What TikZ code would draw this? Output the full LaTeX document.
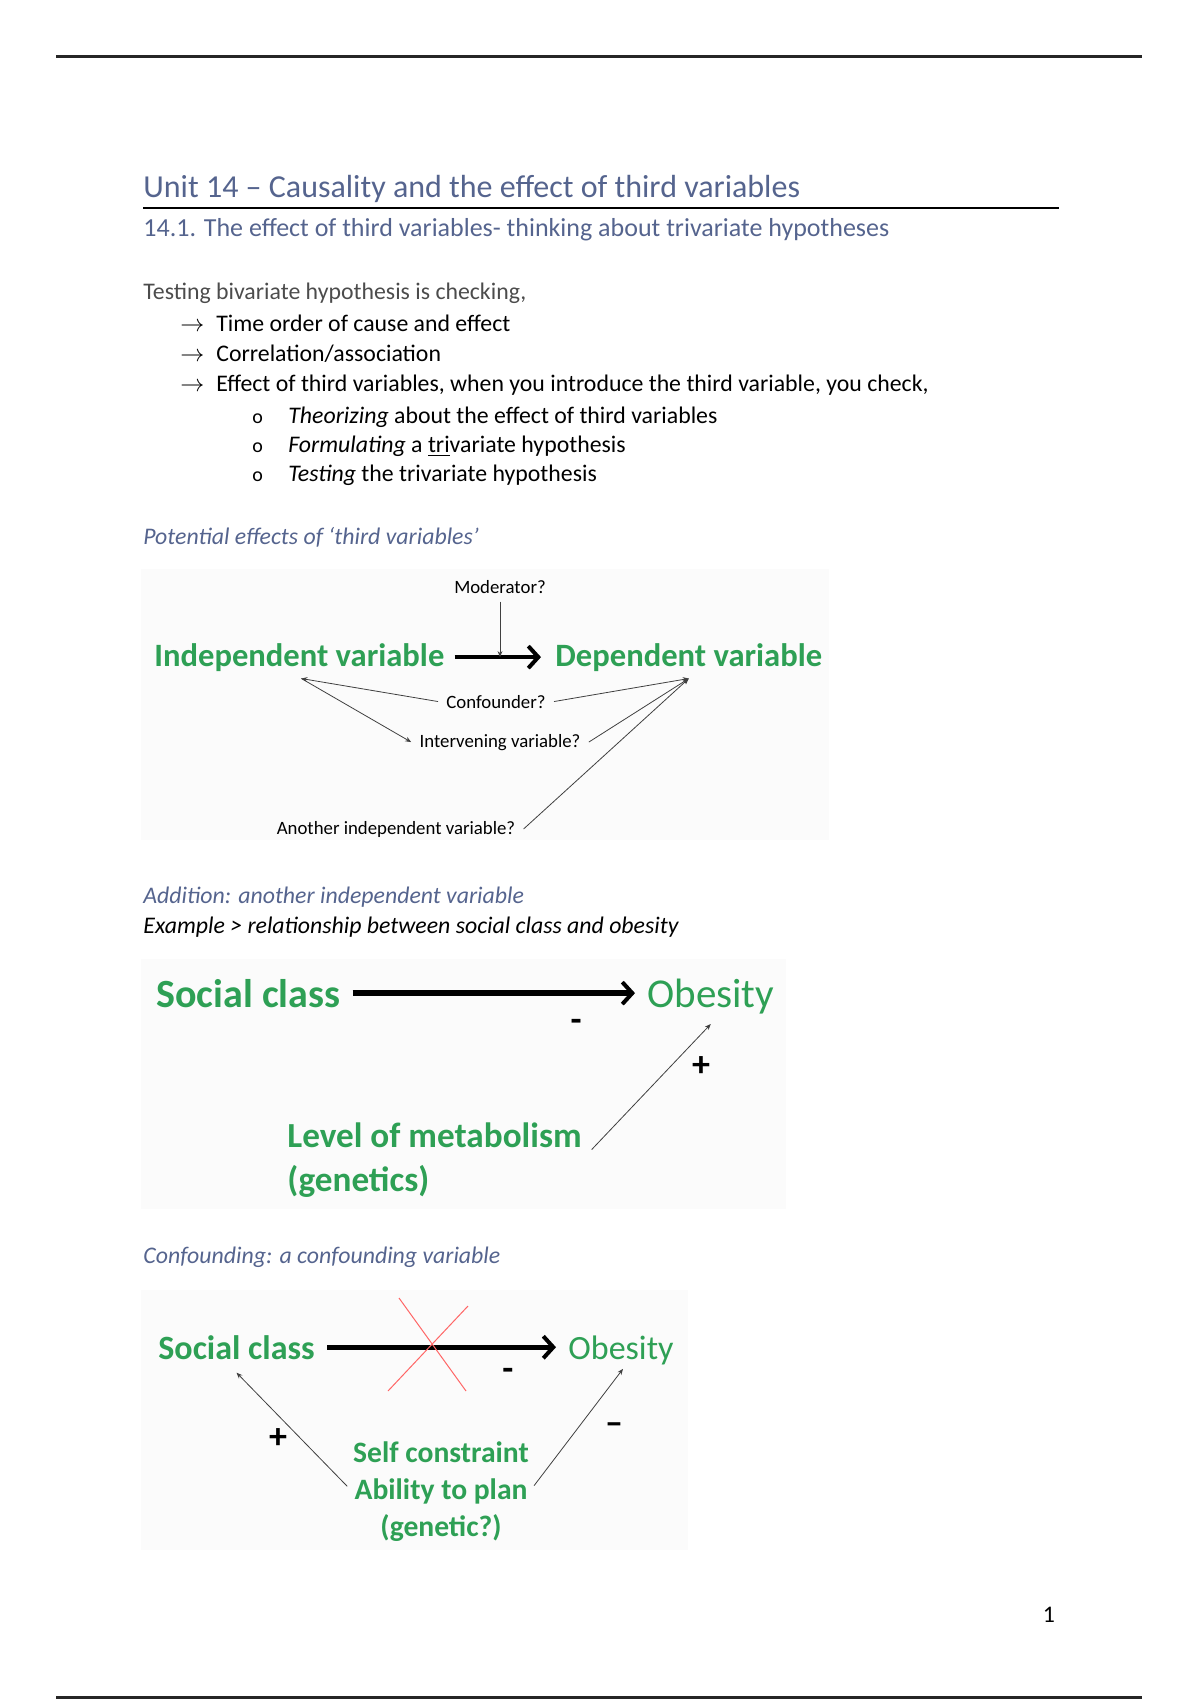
\documentclass[tikz,border=0pt]{standalone}
\usepackage{fontspec}
\setmainfont{Carlito}
\usepackage{xcolor}
\usetikzlibrary{arrows.meta, positioning, calc}
\definecolor{headblue}{HTML}{55648E}
\definecolor{vargreen}{RGB}{46,160,85}

\begin{document}
\begin{tikzpicture}[
      x=0.5pt, y=-0.5pt,
      heading/.style={anchor=base west, inner sep=0pt, text=headblue},
      body/.style={anchor=base west, inner sep=0pt, font=\fontsize{11.9}{14}\selectfont},
      note/.style={inner sep=4pt, font=\fontsize{9.4}{11}\selectfont},
      var/.style={inner sep=0pt, text=vargreen},
      sign/.style={inner sep=0pt, font=\fontsize{18}{20}\bfseries},
      thin_arr/.style={-{Stealth[length=3pt, width=2.4pt]}, line width=0.4pt, black!75},
      thick_arr/.style={-{Straight Barb[length=5pt, width=11pt, line width=2pt]}, line width=2.3pt},
      panel/.style={fill=black!1.5, draw=none}
    ]
    \useasboundingbox (0,0) rectangle (1200,1700);

    % Righe di pagina
    \draw[line width=1.5pt, black!85] (56,57) -- (1142,57);
    \draw[line width=1.5pt, black!85] (56,1697) -- (1142,1697);
    \node[anchor=base, inner sep=0pt, font=\fontsize{11.9}{14}\selectfont] (pnum) at (1049,1622) {1};

    % Titoli
    \node[heading, font=\fontsize{16}{19}\selectfont] (title) at (143,198) {Unit 14 -- Causality and the effect of third variables};
    \draw[line width=0.8pt] (143,208) -- (1059,208);
    \node[heading, font=\fontsize{13}{15}\selectfont] (sub) at (143,237) {14.1. The effect of third variables- thinking about trivariate hypotheses};

    % Elenco
    \node[body, text=black!70] (intro) at (143,300) {Testing bivariate hypothesis is checking,};
    \foreach \txt [count=\i] in {Time order of cause and effect, Correlation/association, {Effect of third variables, when you introduce the third variable, you check,}} {
      \node[body] (arr\i) at (180,{332+30*(\i-1)}) {$\rightarrow$};
      \node[body] (item\i) at (216,{332+30*(\i-1)}) {\txt};
    }
    \foreach \txt [count=\i] in {{\textit{Theorizing} about the effect of third variables}, {\textit{Formulating} a \underline{tri}variate hypothesis}, {\textit{Testing} the trivariate hypothesis}} {
      \node[body, font=\fontsize{10}{12}\selectfont] (dot\i) at (252,{423+29*(\i-1)}) {o};
      \node[body] (sub\i) at (288,{423+29*(\i-1)}) {\txt};
    }

    % Primo schema
    \node[heading, font=\fontsize{11.9}{14}\itshape] (pot) at (143,544) {Potential effects of `third variables'};
    \fill[panel] (141,569) rectangle (829,840);
    \node[var, anchor=base west, font=\fontsize{16.3}{19}\bfseries] (iv) at (154,666) {Independent variable};
    \node[var, anchor=base west, font=\fontsize{16.3}{19}\bfseries] (dv) at (555,666) {Dependent variable};
    \draw[thick_arr, shorten <=5pt, shorten >=7pt] (iv.east) -- (iv.east -| dv.west);
    \coordinate (modtip) at ($(iv.east)!0.5!(iv.east -| dv.west)$);
    \node[note, anchor=base] (mod) at (500,593) {Moderator?};
    \draw[thin_arr] (mod.south) -- (mod.south |- modtip);
    \coordinate (ivp) at ($(iv.south)+(2,7)$);
    \coordinate (dvp) at ($(dv.south)+(0,7)$);
    \node[note, anchor=base] (conf) at (496,708) {Confounder?};
    \node[note, anchor=base] (interv) at (500,747) {Intervening variable?};
    \node[note, anchor=base] (another) at (396,834) {Another independent variable?};
    \draw[thin_arr] (conf.west) -- (ivp);
    \draw[thin_arr] (conf.east) -- (dvp);
    \draw[thin_arr] (ivp) -- (interv.west);
    \draw[thin_arr] (interv.east) -- (dvp);
    \draw[thin_arr] (another.east) -- (dvp);

    % Secondo schema
    \node[heading, font=\fontsize{11.9}{14}\itshape] (add) at (143,903) {Addition: another independent variable};
    \node[body, font=\fontsize{11.9}{14}\itshape] (ex) at (143,933) {Example > relationship between social class and obesity};
    \fill[panel] (141,959) rectangle (786,1209);
    \node[var, anchor=base west, font=\fontsize{20}{24}\bfseries] (soc) at (156,1007) {Social class};
    \node[var, anchor=base west, font=\fontsize{20.5}{24}\selectfont] (obes) at (647,1007) {Obesity};
    \draw[thick_arr, line width=2.7pt, shorten <=6pt, shorten >=6pt] (soc.east) -- (soc.east -| obes.west);
    \node[sign] (minA) at (576,1025) {-};
    \node[var, anchor=north west, align=left, font=\fontsize{17.6}{22}\bfseries] (lvl) at (287,1122) {Level of metabolism\\(genetics)};
    \draw[thin_arr, shorten <=7pt] (lvl.east) -- ($(obes.south)+(0,10)$);
    \node[sign] (plusA) at (701,1067) {+};

    % Terzo schema
    \node[heading, font=\fontsize{11.9}{14}\itshape] (confg) at (143,1263) {Confounding: a confounding variable};
    \fill[panel] (141,1290) rectangle (688,1550);
    \node[var, anchor=base west, font=\fontsize{17}{20}\bfseries] (socB) at (158,1359) {Social class};
    \node[var, anchor=base west, font=\fontsize{17}{20}\selectfont] (obesB) at (568,1359) {Obesity};
    \draw[thick_arr, shorten <=6pt, shorten >=6pt] (socB.east) -- (socB.east -| obesB.west);
    \draw[red!60, line width=0.5pt] (399,1298) -- (466,1391);
    \draw[red!60, line width=0.5pt] (468,1306) -- (388,1391);
    \node[sign] (minB) at (508,1374) {-};
    \node[var, align=center, font=\fontsize{14.8}{18.5}\bfseries] (self) at (441,1492) {Self constraint\\Ability to plan\\(genetic?)};
    \draw[thin_arr, shorten <=4pt] (self.west) -- ($(socB.south)+(0,13)$);
    \draw[thin_arr, shorten <=4pt] (self.east) -- ($(obesB.south)+(2,4)$);
    \node[sign] (plusB) at (278,1439) {+};
    \node[sign] (minC) at (614,1429) {--};
\end{tikzpicture}
\end{document}
